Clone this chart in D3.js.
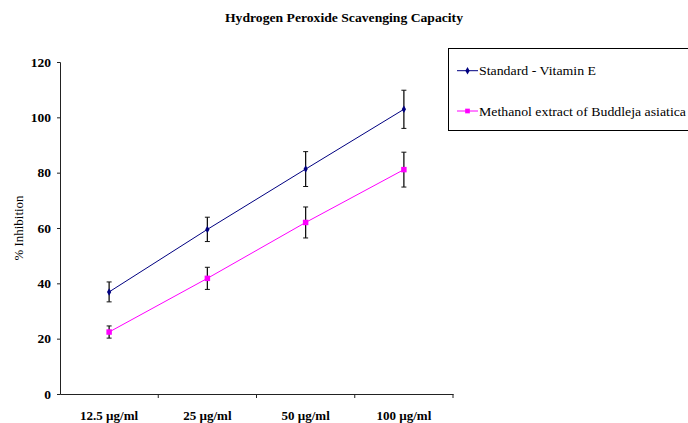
<!DOCTYPE html>
<html><head><meta charset="utf-8">
<script src="https://cdn.jsdelivr.net/npm/d3@7"></script>
<style>body{margin:0;background:#fff}svg{display:block}</style>
</head><body>
<svg id="c" width="688" height="423"></svg>
<script>
const categories = ["12.5 µg/ml", "25 µg/ml", "50 µg/ml", "100 µg/ml"];
const vitaminE = [36.9, 59.5, 81.3, 102.9];
const vitaminEErr = [3.6, 4.4, 6.3, 6.9];
const buddleja = [22.4, 41.8, 62.0, 81.1];
const buddlejaErr = [2.2, 4.0, 5.6, 6.3];
const yTicks = [0, 20, 40, 60, 80, 100, 120];
const seriesNames = ["Standard - Vitamin E", "Methanol extract of Buddleja asiatica"];
const seriesColors = ["#000080", "#ff00ff"];

const svg = d3.select("#c");
const m = {l: 60, r: 235, t: 62, b: 29};
const W = 688, H = 423;
const x = d3.scaleBand().domain(categories).range([m.l, W - m.r]);
const y = d3.scaleLinear().domain([0, 120]).range([H - m.b, m.t]);
const serif = "'Liberation Serif','Times New Roman',serif";

// title
svg.append("text").attr("x", 344).attr("y", 22).attr("text-anchor", "middle")
  .attr("font-family", serif).attr("font-weight", "bold").attr("font-size", 12)
  .attr("textLength", 238).attr("lengthAdjust", "spacingAndGlyphs")
  .text("Hydrogen Peroxide Scavenging Capacity");

// y axis
const ya = svg.append("g").attr("transform", `translate(${m.l},0)`)
  .call(d3.axisLeft(y).tickValues(yTicks).tickSize(3).tickPadding(6));
ya.select(".domain").attr("stroke", "#222");
ya.selectAll(".tick line").attr("stroke", "#222");
ya.selectAll("text").attr("font-family", serif).attr("font-weight", "bold").attr("font-size", 13.5).attr("fill", "#000");

// x axis
const xa = svg.append("g").attr("transform", `translate(0,${H - m.b})`)
  .call(d3.axisBottom(x).tickSize(0).tickPadding(17).tickSizeOuter(0));
xa.select(".domain").attr("stroke", "#222");
xa.selectAll("text").attr("font-family", serif).attr("font-weight", "bold").attr("font-size", 13).attr("fill", "#000");
// category boundary ticks
const bounds = categories.map((c) => x(c) + x.bandwidth());
xa.selectAll(".bt").data(bounds).enter().append("line")
  .attr("x1", d => d).attr("x2", d => d).attr("y1", 0).attr("y2", 4).attr("stroke", "#222");

// y label
svg.append("text").attr("transform", `translate(23,${(y(0)+y(120))/2}) rotate(-90)`)
  .attr("text-anchor", "middle").attr("font-family", serif).attr("font-size", 13)
  .attr("textLength", 65).attr("lengthAdjust", "spacingAndGlyphs")
  .text("% Inhibition");

const cx = c => x(c) + x.bandwidth() / 2;
const series = [
  {vals: vitaminE, err: vitaminEErr, color: seriesColors[0], shape: "diamond"},
  {vals: buddleja, err: buddlejaErr, color: seriesColors[1], shape: "square"}
];

series.forEach(s => {
  const g = svg.append("g");
  categories.forEach((c, i) => {
    const X = cx(c), y1 = y(s.vals[i] + s.err[i]), y2 = y(s.vals[i] - s.err[i]);
    g.append("line").attr("x1", X).attr("x2", X).attr("y1", y1).attr("y2", y2).attr("stroke", "#111").attr("stroke-width", 1.3);
    g.append("line").attr("x1", X - 2.5).attr("x2", X + 2.5).attr("y1", y1).attr("y2", y1).attr("stroke", "#111");
    g.append("line").attr("x1", X - 2.5).attr("x2", X + 2.5).attr("y1", y2).attr("y2", y2).attr("stroke", "#111");
  });
  g.append("path").datum(s.vals)
    .attr("d", d3.line().x((d, i) => cx(categories[i])).y(d => y(d)))
    .attr("fill", "none").attr("stroke", s.color).attr("stroke-width", 1);
  g.selectAll(".pt").data(s.vals).enter().append("path")
    .attr("transform", (d, i) => `translate(${cx(categories[i])},${y(d)})`)
    .attr("d", d3.symbol().type(s.shape === "diamond" ? d3.symbolDiamond : d3.symbolSquare).size(s.shape === "diamond" ? 16 : 30))
    .attr("fill", s.color);
});

// legend
const lg = svg.append("g");
lg.append("rect").attr("x", 448.5).attr("y", 48.5).attr("width", 250).attr("height", 82)
  .attr("fill", "none").attr("stroke", "#000").attr("stroke-width", 1);
const legendWidths = [117, 207];
[70.7, 111].forEach((ly, i) => {
  lg.append("line").attr("x1", 457).attr("x2", 478).attr("y1", ly).attr("y2", ly).attr("stroke", seriesColors[i]);
  lg.append("path").attr("transform", `translate(467.5,${ly})`)
    .attr("d", d3.symbol().type(i === 0 ? d3.symbolDiamond : d3.symbolSquare).size(i === 0 ? 16 : 22))
    .attr("fill", seriesColors[i]);
  lg.append("text").attr("x", 479).attr("y", ly + 4.5).attr("font-family", serif).attr("font-size", 13)
    .attr("textLength", legendWidths[i]).attr("lengthAdjust", "spacingAndGlyphs")
    .text(seriesNames[i]);
});
</script>
</body></html>
